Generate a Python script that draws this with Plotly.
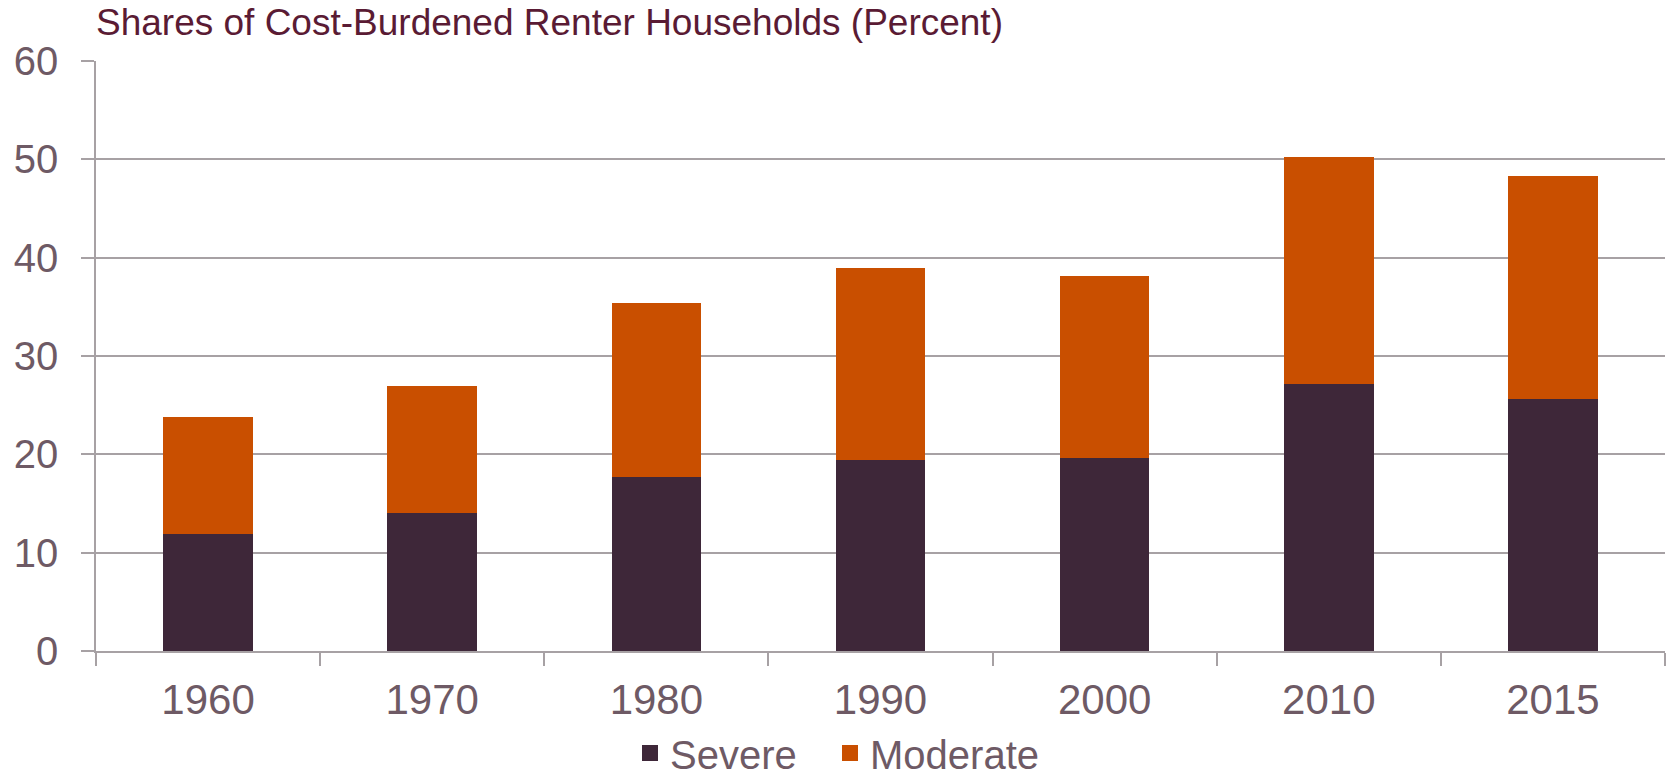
import plotly.graph_objects as go

years = ["1960", "1970", "1980", "1990", "2000", "2010", "2015"]
severe = [11.9, 14.0, 17.7, 19.4, 19.6, 27.2, 25.6]
moderate = [11.9, 13.0, 17.7, 19.6, 18.5, 23.0, 22.7]
y_ticks = [0, 10, 20, 30, 40, 50, 60]

SEVERE_COLOR = "#3E2739"
MODERATE_COLOR = "#C94F00"
GRID = "#A7A1A4"
TEXT = "#6E5A65"
TITLE = "#5A1B34"
FONT = "Arial, Liberation Sans, sans-serif"

fig = go.Figure()
fig.add_trace(go.Bar(x=years, y=severe, name="Severe", marker_color=SEVERE_COLOR,
                     marker_line_width=0, showlegend=False))
fig.add_trace(go.Bar(x=years, y=moderate, name="Moderate", marker_color=MODERATE_COLOR,
                     marker_line_width=0, showlegend=False))
# legend-only entries with larger square swatches
fig.add_trace(go.Scatter(x=[None], y=[None], mode="markers", name="Severe", legend="legend",
                         marker=dict(symbol="square", size=21, color=SEVERE_COLOR)))
fig.add_trace(go.Scatter(x=[None], y=[None], mode="markers", name="Moderate", legend="legend2",
                         marker=dict(symbol="square", size=21, color=MODERATE_COLOR)))

legend_common = dict(orientation="h", xanchor="left", yref="container", y=1 - 753 / 777,
                     yanchor="middle", font=dict(family=FONT, size=40, color=TEXT),
                     itemsizing="trace", bgcolor="rgba(0,0,0,0)", borderwidth=0)

fig.update_layout(
    template="none",
    width=1666, height=777, autosize=False,
    margin=dict(l=96, r=1, t=61, b=126, pad=0, autoexpand=False),
    paper_bgcolor="white", plot_bgcolor="white",
    barmode="stack", bargap=0.6,
    font=dict(family=FONT, color=TEXT, size=40),
    title=dict(text="Shares of Cost-Burdened Renter Households (Percent)",
               font=dict(family=FONT, size=37, color=TITLE),
               xref="container", yref="container", x=96 / 1666, xanchor="left",
               y=1 - 22.5 / 777, yanchor="middle"),
    legend=dict(x=(650 - 20 - 96) / 1569, **legend_common),
    legend2=dict(x=(850 - 20 - 96) / 1569, **legend_common),
    xaxis=dict(type="category", tickson="boundaries", ticks="outside", ticklen=13,
               tickwidth=1.5, tickcolor=GRID, showline=True, linecolor=GRID, linewidth=1.5,
               showgrid=False, tickfont=dict(size=42, color=TEXT), ticklabelstandoff=11,
               automargin=False, fixedrange=True),
    yaxis=dict(range=[0, 60], tickvals=y_ticks, ticks="outside", ticklen=13, tickwidth=1.5,
               tickcolor=GRID, showline=True, linecolor=GRID, linewidth=1.5,
               showgrid=True, gridcolor=GRID, gridwidth=1.5, zeroline=False,
               tickfont=dict(size=40, color=TEXT), ticklabelstandoff=15,
               automargin=False, fixedrange=True),
)

fig.write_html("out.html", config={"displayModeBar": False},
               post_script="document.body.style.margin='0';document.body.style.overflow='hidden';")
